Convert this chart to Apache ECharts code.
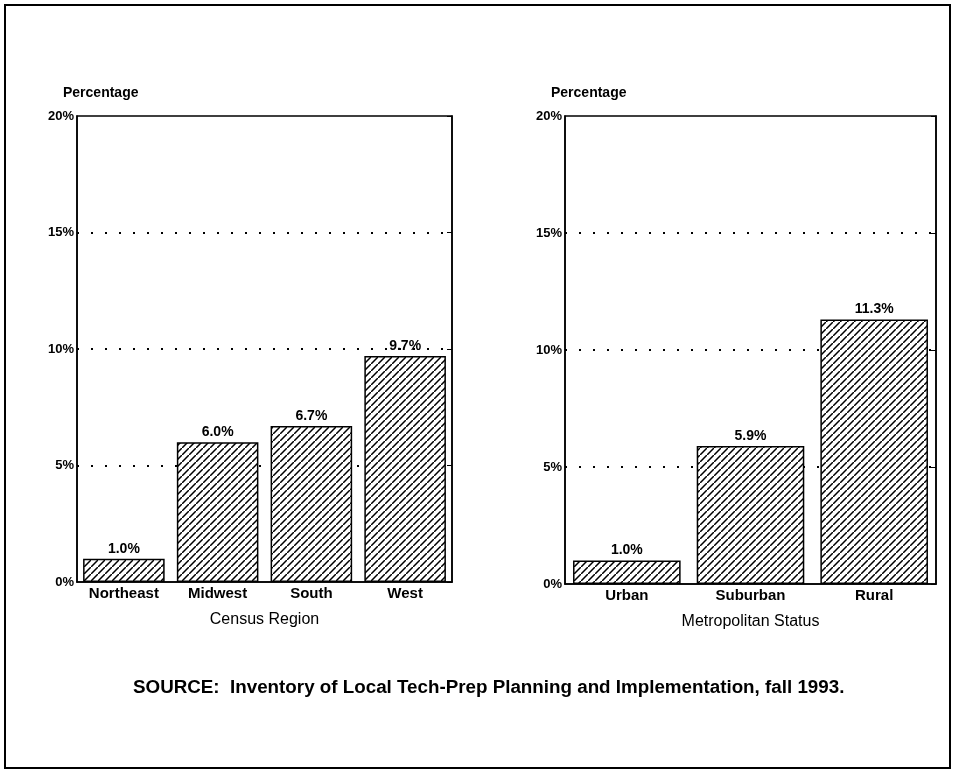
<!DOCTYPE html>
<html>
<head>
<meta charset="utf-8">
<script src="https://cdn.jsdelivr.net/npm/echarts@6/dist/echarts.min.js"></script>
<style>
html, body { margin: 0; padding: 0; background: #fff; }
#main { width: 955px; height: 774px; }
</style>
</head>
<body>
<div id="main"></div>
<script>
const regionCats = ['Northeast', 'Midwest', 'South', 'West']
const regionVals = [1.0, 6.0, 6.7, 9.7]
const metroCats = ['Urban', 'Suburban', 'Rural']
const metroVals = [1.0, 5.9, 11.3]
const yTicks = [0, 5, 10, 15, 20]

// diagonal hatch fill
function hatch() {
    const s = 7
    const c = document.createElement('canvas')
    c.width = s
    c.height = s
    const ctx = c.getContext('2d')
    ctx.fillStyle = '#fff'
    ctx.fillRect(0, 0, s, s)
    ctx.strokeStyle = '#000'
    ctx.lineWidth = 1.5
    ctx.beginPath()
    ctx.moveTo(-1, s + 1); ctx.lineTo(s + 1, -1)
    ctx.moveTo(-s - 1, 1); ctx.lineTo(1, -s - 1)
    ctx.moveTo(s - 1, 2 * s + 1); ctx.lineTo(2 * s + 1, s - 1)
    ctx.stroke()
    return c
}
const pattern = { image: hatch(), repeat: 'repeat' }

const font = 'Liberation Sans'
const chart = echarts.init(document.getElementById('main'))

function yAxisPair(gridIndex) {
    return [{
        type: 'value', gridIndex: gridIndex, min: yTicks[0], max: yTicks[yTicks.length - 1], interval: 5,
        name: 'Percentage', nameLocation: 'end', nameGap: 16,
        nameTextStyle: { color: '#000', fontFamily: font, fontWeight: 'bold', fontSize: 14, align: 'left', padding: [0, 0, 0, -14] },
        axisLine: { show: true, lineStyle: { color: '#000', width: 1.5 } },
        axisTick: { show: false },
        axisLabel: { color: '#000', fontFamily: font, fontWeight: 'bold', fontSize: 13, margin: 3, formatter: '{value}%' },
        splitLine: { show: true, showMinLine: false, showMaxLine: false, lineStyle: { color: '#000', type: [2, 12], width: 2 } }
    }, {
        type: 'value', gridIndex: gridIndex, position: 'right', min: 0, max: 20, interval: 5,
        axisLine: { show: true, lineStyle: { color: '#000', width: 1.5 } },
        axisTick: { show: true, inside: true, length: 5, lineStyle: { color: '#000' } },
        axisLabel: { show: false },
        splitLine: { show: false }
    }]
}

function xAxis(gridIndex, cats, name) {
    return {
        type: 'category', gridIndex: gridIndex, data: cats,
        name: name, nameLocation: 'middle', nameGap: 30,
        nameTextStyle: { color: '#000', fontFamily: font, fontSize: 16 },
        axisLine: { lineStyle: { color: '#000', width: 1.5 } },
        axisTick: { show: false },
        axisLabel: { interval: 0, color: '#000', fontFamily: font, fontWeight: 'bold', fontSize: 15, margin: 4 }
    }
}

function barSeries(idx, vals) {
    return {
        type: 'bar', xAxisIndex: idx, yAxisIndex: idx * 2, data: vals,
        barCategoryGap: '13%',
        itemStyle: { color: pattern, borderColor: '#000', borderWidth: 1.5 },
        label: {
            show: true, position: 'top', distance: 3, color: '#000',
            fontFamily: font, fontWeight: 'bold', fontSize: 14,
            formatter: p => p.value.toFixed(1) + '%'
        }
    }
}

const option = {
    animation: false,
    backgroundColor: '#fff',
    grid: [
        { left: 77, top: 116, width: 375, height: 466, show: true, borderColor: '#000', borderWidth: 1.5 },
        { left: 565, top: 116, width: 371, height: 468, show: true, borderColor: '#000', borderWidth: 1.5 }
    ],
    xAxis: [xAxis(0, regionCats, 'Census Region'), xAxis(1, metroCats, 'Metropolitan Status')],
    yAxis: yAxisPair(0).concat(yAxisPair(1)),
    series: [barSeries(0, regionVals), barSeries(1, metroVals)],
    graphic: [
        { type: 'rect', shape: { x: 5, y: 5, width: 945, height: 763 }, style: { fill: 'none', stroke: '#000', lineWidth: 2 } },
        { type: 'text', left: 133, top: 678, style: { text: 'SOURCE:  Inventory of Local Tech-Prep Planning and Implementation, fall 1993.', fill: '#000', font: 'bold 18.8px "Liberation Sans"' } }
    ]
}
chart.setOption(option)
</script>
</body>
</html>
